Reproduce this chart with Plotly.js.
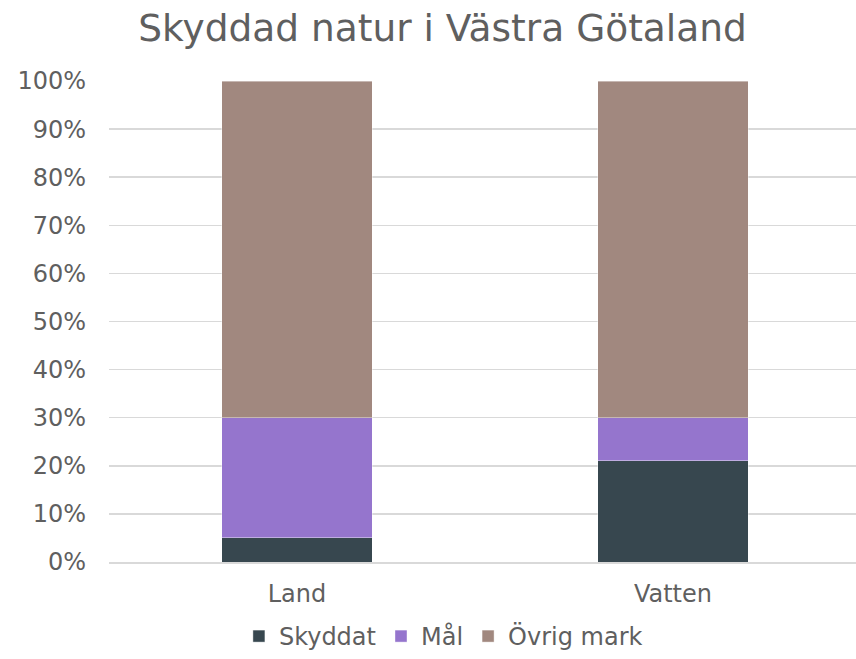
<!DOCTYPE html>
<html>
<head>
<meta charset="utf-8">
<script src="https://cdn.plot.ly/plotly-3.0.1.min.js"></script>
<style>html,body{margin:0;padding:0;background:#fff;}#chart{width:856px;height:659px;}</style>
</head>
<body>
<div id="chart"></div>
<script>
const categories = ["Land", "Vatten"];
const skyddat = [0.05, 0.21];
const mal = [0.25, 0.09];
const ovrig = [0.70, 0.70];
const seriesNames = ["Skyddat", "Mål", "Övrig mark"];
const colors = ["#37474f", "#9575cd", "#a1887f"];
const yTickVals = [0, 0.1, 0.2, 0.3, 0.4, 0.5, 0.6, 0.7, 0.8, 0.9, 1.0];
const yTickText = ["0%", "10%", "20%", "30%", "40%", "50%", "60%", "70%", "80%", "90%", "100%"];

const seriesValues = [skyddat, mal, ovrig];
const traces = seriesValues.map((vals, i) => ({
  type: "bar",
  name: seriesNames[i],
  x: categories,
  y: vals,
  marker: { color: colors[i], line: { color: "rgba(255,255,255,0.5)", width: 0.8 } },
  hoverinfo: "x+y+name"
}));

const font = "DejaVu Sans, Verdana, sans-serif";
const textColor = "#5f5f5f";
const layout = {
  width: 856,
  height: 659,
  barmode: "stack",
  bargap: 0.6,
  paper_bgcolor: "#ffffff",
  plot_bgcolor: "#ffffff",
  margin: { l: 109, r: 0, t: 81, b: 97 },
  font: { family: font, color: textColor, size: 24 },
  title: {
    text: "Skyddad natur i Västra Götaland",
    font: { family: font, size: 37.5, color: textColor },
    xref: "container", x: 0.517, xanchor: "center",
    yref: "container", y: 0.977, yanchor: "top"
  },
  xaxis: {
    type: "category",
    range: [-0.5, 1.487],
    showgrid: false,
    showline: true,
    linecolor: "#d9d9d9",
    linewidth: 1.5,
    ticks: "",
    ticklabelstandoff: 10,
    tickfont: { family: font, size: 24, color: textColor },
    fixedrange: true
  },
  yaxis: {
    range: [0, 1],
    tickvals: yTickVals,
    ticktext: yTickText,
    showgrid: true,
    gridcolor: "#d9d9d9",
    gridwidth: 1.5,
    zeroline: false,
    showline: false,
    ticks: "",
    ticklabelstandoff: 22,
    tickfont: { family: font, size: 24, color: textColor },
    fixedrange: true
  },
  showlegend: true,
  legend: {
    orientation: "h",
    xref: "container", x: 0.518, xanchor: "center",
    yref: "container", y: -0.008, yanchor: "bottom",
    font: { family: font, size: 24, color: textColor },
    itemwidth: 30,
    traceorder: "normal"
  }
};

Plotly.newPlot("chart", traces, layout, { displayModeBar: false, staticPlot: true });
</script>
</body>
</html>
